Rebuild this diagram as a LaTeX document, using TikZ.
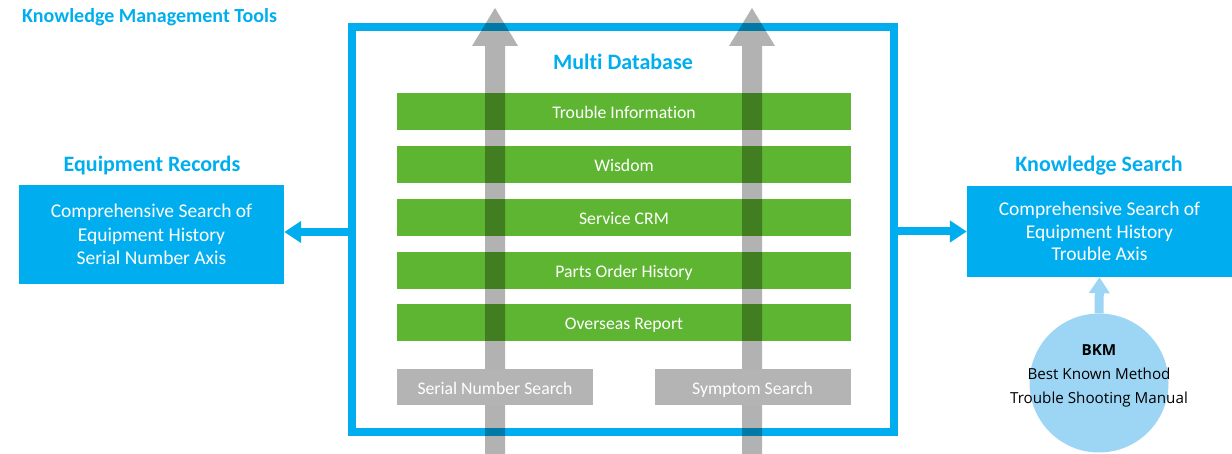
\documentclass[tikz,border=0pt]{standalone}
\usepackage{fontspec}
\setmainfont[Ligatures=NoCommon]{Carlito}
\newfontfamily\bkmfont{Open Sans}
\usetikzlibrary{arrows.meta}
\definecolor{kblue}{RGB}{0,174,239}
\definecolor{kgreen}{RGB}{94,181,49}
\definecolor{kgrey}{RGB}{180,180,180}
\definecolor{klight}{RGB}{157,214,245}
\begin{document}
\begin{tikzpicture}[x=1pt, y=-1pt,
  heading/.style={text=kblue, inner sep=0pt, font=\fontsize{22}{24}\selectfont\bfseries},
  bar/.style={fill=kgreen, text=white, minimum width=454pt, minimum height=37pt, inner sep=0pt, text height=14pt, text depth=0pt, font=\fontsize{17.7}{20}\selectfont},
  srch/.style={fill=kgrey, text=white, minimum width=196pt, minimum height=36pt, inner sep=0pt, text height=14pt, text depth=0pt, font=\fontsize{17.7}{20}\selectfont},
  recbox/.style={fill=kblue, text=white, minimum width=265pt, align=center, inner sep=0pt, font=\fontsize{19.5}{23.5}\selectfont},
  blk/.style={kblue, line width=8pt, -{Triangle[width=21pt,length=17pt]}},
  upway/.style={fill=black, opacity=.3}]
\useasboundingbox (0,0) rectangle (1232,454);
\node[heading, anchor=west, font=\fontsize{20}{22}\selectfont\bfseries] (kmt) at (22,17) {Knowledge Management Tools};
\node[draw=kblue, line width=8pt, minimum width=542pt, minimum height=405pt, inner sep=0pt] (mdbframe) at (623,229.5) {};
\node[heading] (mdb) at (623,62) {Multi Database};
\foreach \t [count=\i] in {Trouble Information, Wisdom, Service CRM, Parts Order History, Overseas Report}
  \node[bar] (bar\i) at (624,59.25+52.75*\i) {\t};
% search arrows through the database
\foreach \c in {495,752}
  \fill[upway] (\c-10,460) -- (\c-10,46) -- (\c-23,46) -- (\c,8) -- (\c+23,46) -- (\c+10,46) -- (\c+10,460) -- cycle;
\node[srch] (serial) at (495,387) {Serial Number Search};
\node[srch] (symptom) at (752.5,387) {Symptom Search};

\node[heading] (eqhead) at (152,166) {Equipment Records};
\node[recbox, minimum height=99pt] (eqrec) at (151.5,234.5) {Comprehensive Search of\\Equipment History\\Serial Number Axis};
\node[heading] (kshead) at (1099,166) {Knowledge Search};
\node[recbox, minimum height=91pt, font=\fontsize{19.5}{22.5}\selectfont] (ksrec) at (1099.5,231.5) {Comprehensive Search of\\Equipment History\\Trouble Axis};
\draw[blk] ([yshift=-2.5pt]mdbframe.west) -- ([yshift=-2.5pt]mdbframe.west -| eqrec.east);
\draw[blk] ([yshift=-2pt]mdbframe.east) -- ([yshift=-2pt]mdbframe.east -| ksrec.west);

\node[circle, fill=klight, minimum size=139pt, inner sep=0pt] (bkm) at (1099,383) {};
\draw[klight, line width=9pt, -{Triangle[width=20pt,length=16pt]}] (bkm.north) -- (ksrec.south);
\node[align=center, inner sep=0pt, font=\bkmfont\fontsize{15.2}{24}\selectfont] (bkmtext) at (1099,376) {\textbf{BKM}\\Best Known Method\\Trouble Shooting Manual};
\end{tikzpicture}
\end{document}
